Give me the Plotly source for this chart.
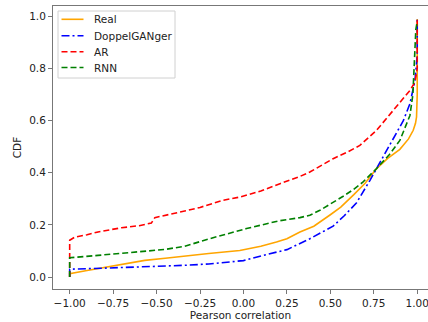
import plotly.graph_objects as go

# ---- data ----
real_x = [-1, -1, -0.9, -0.8, -0.7, -0.568, -0.45, -0.338, -0.2, -0.021, 0.1, 0.19, 0.25, 0.325,
          0.405, 0.5, 0.56, 0.635, 0.7, 0.766, 0.83, 0.9, 0.95, 0.977, 0.99, 0.996, 1.0, 1.0]
real_y = [0, 0.013, 0.025, 0.036, 0.048, 0.064, 0.072, 0.081, 0.09, 0.102, 0.118, 0.134, 0.147, 0.173,
          0.195, 0.239, 0.268, 0.316, 0.36, 0.416, 0.455, 0.49, 0.53, 0.563, 0.59, 0.614, 0.70, 0.99]

dg_x = [-1, -1, -0.8, -0.6, -0.338, -0.2, -0.079, 0.0, 0.113, 0.25, 0.382, 0.45, 0.516, 0.58,
        0.651, 0.728, 0.766, 0.82, 0.881, 0.92, 0.958, 0.987, 1.0, 1.0]
dg_y = [0, 0.03, 0.034, 0.038, 0.045, 0.05, 0.058, 0.063, 0.083, 0.105, 0.147, 0.17, 0.195, 0.235,
        0.285, 0.371, 0.416, 0.48, 0.55, 0.6, 0.665, 0.754, 0.85, 0.99]

ar_x = [-1, -1, -0.971, -0.9, -0.837, -0.702, -0.6, -0.549, -0.53, -0.51, -0.45, -0.338, -0.25,
        -0.12, -0.02, 0.1, 0.21, 0.325, 0.382, 0.516, 0.6, 0.67, 0.766, 0.862, 0.958, 0.987, 1.0, 1.0]
ar_y = [0, 0.141, 0.153, 0.162, 0.173, 0.189, 0.197, 0.205, 0.207, 0.228, 0.236, 0.253, 0.267,
        0.294, 0.307, 0.33, 0.358, 0.386, 0.403, 0.454, 0.48, 0.505, 0.563, 0.639, 0.716, 0.748, 0.80, 0.99]

rnn_x = [-1, -1, -0.837, -0.607, -0.45, -0.338, -0.2, 0.018, 0.2, 0.325, 0.382, 0.44, 0.516, 0.574,
         0.631, 0.687, 0.766, 0.84, 0.9, 0.958, 0.975, 0.982, 0.986, 0.992, 1.0]
rnn_y = [0, 0.074, 0.083, 0.096, 0.106, 0.118, 0.146, 0.186, 0.215, 0.228, 0.237, 0.256, 0.285, 0.31,
         0.335, 0.364, 0.416, 0.47, 0.524, 0.62, 0.70, 0.80, 0.90, 0.95, 0.98]

series_names = ["Real", "DoppelGANger", "AR", "RNN"]
x_ticks = [-1.0, -0.75, -0.5, -0.25, 0.0, 0.25, 0.5, 0.75, 1.0]
y_ticks = [0.0, 0.2, 0.4, 0.6, 0.8, 1.0]

FONT = "DejaVu Sans"
FS = 10.5
TXT = "#222"
W, H = 428, 322
ML, MR, MT, MB = 53, 0, 6, 33
PW, PH = W - ML - MR, H - MT - MB

styles = [
    dict(color="#FFA500", width=1.6),
    dict(color="#0000FF", width=1.6, dash="8px,3px,2px,3px"),
    dict(color="#FF0000", width=1.6, dash="6px,3px"),
    dict(color="#008000", width=1.6, dash="6px,3px"),
]
data = [(real_x, real_y), (dg_x, dg_y), (ar_x, ar_y), (rnn_x, rnn_y)]

fig = go.Figure()
for (xs, ys), name, st in zip(data, series_names, styles):
    fig.add_trace(go.Scatter(x=xs, y=ys, mode="lines", name=name, line=st, showlegend=False))

axis_common = dict(showgrid=False, zeroline=False, showline=True, linecolor="#777", linewidth=1,
                   ticks="outside", ticklen=4, tickcolor="#777", tickwidth=1,
                   tickfont=dict(family=FONT, size=FS, color=TXT))
fig.update_xaxes(range=[-1.096, 1.062], tickvals=x_ticks, tickformat=".2f", mirror=True,
                 ticklabeloverflow="allow",
                 title=dict(text="Pearson correlation", font=dict(family=FONT, size=FS, color=TXT),
                            standoff=3),
                 **axis_common)
fig.update_yaxes(range=[-0.046, 1.04], tickvals=y_ticks, tickformat=".1f",
                 title=dict(text="CDF", font=dict(family=FONT, size=FS, color=TXT), standoff=5),
                 **axis_common)

# ---- hand-drawn legend (matplotlib style) ----
def xp(px):
    return (px - ML) / PW

def yp(py):
    return (H - MB - py) / PH

shapes = [dict(type="rect", xref="paper", yref="paper", x0=xp(58), x1=xp(175), y0=yp(78), y1=yp(11),
               line=dict(color="#d0d0d0", width=1), fillcolor="rgba(255,255,255,0.8)", layer="above")]
annotations = []
row_y = [19.3, 35.7, 51.7, 67.5]
for name, st, ry in zip(series_names, styles, row_y):
    shapes.append(dict(type="line", xref="paper", yref="paper", x0=xp(61.5), x1=xp(83.5),
                       y0=yp(ry), y1=yp(ry), line=st, layer="above"))
    annotations.append(dict(xref="paper", yref="paper", x=xp(91.5), y=yp(ry), text=name,
                            showarrow=False, xanchor="left", yanchor="middle",
                            font=dict(family=FONT, size=FS, color=TXT)))

fig.update_layout(
    width=W, height=H,
    margin=dict(l=ML, r=MR, t=MT, b=MB, autoexpand=False),
    plot_bgcolor="white", paper_bgcolor="white",
    font=dict(family=FONT, size=FS, color=TXT),
    shapes=shapes, annotations=annotations, showlegend=False,
)
fig.write_html("out.html")
